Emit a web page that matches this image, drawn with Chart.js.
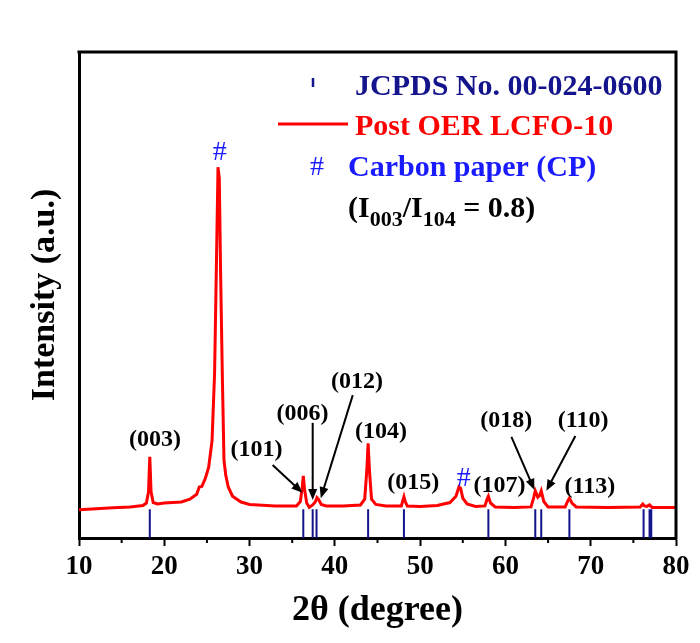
<!DOCTYPE html>
<html>
<head>
<meta charset="utf-8">
<script src="https://cdn.jsdelivr.net/npm/chart.js@4"></script>
<style>
  html, body { margin: 0; padding: 0; background: #fff; }
  #wrap { width: 700px; height: 643px; }
</style>
</head>
<body>
<div id="wrap"><canvas id="xrd" width="700" height="643"></canvas></div>
<script>
// XRD pattern, post OER LCFO-10
var twoTheta = [10, 12, 14, 16, 17.5, 17.9, 18.15, 18.3, 18.45, 18.7, 19.2, 20, 21, 22, 23, 23.8, 24.1, 24.4, 24.8, 25.2, 25.6, 25.9, 26.1, 26.3, 26.45, 26.6, 26.8, 27.0, 27.2, 27.5, 28.0, 29, 30, 33, 35.5, 35.95, 36.15, 36.3, 36.45, 36.7, 37.0, 37.4, 37.7, 37.9, 38.1, 38.4, 39, 41, 43.0, 43.5, 43.75, 43.9, 44.05, 44.3, 44.8, 46, 47.8, 47.95, 48.1, 48.25, 48.5, 50, 52, 53.5, 54.2, 54.55, 54.75, 55.0, 55.5, 56.5, 57.6, 57.85, 58.0, 58.25, 58.8, 61, 63.0, 63.3, 63.5, 63.8, 64.0, 64.2, 64.5, 65, 67, 67.3, 67.5, 67.8, 68.3, 72, 75.8, 76.1, 76.3, 76.6, 76.9, 77.2, 80];
var intensity = [5.8, 6.0, 6.2, 6.4, 6.7, 7.2, 9.5, 16.7, 9.5, 7.3, 7.0, 7.2, 7.3, 7.4, 8.0, 9.0, 10.5, 10.6, 12.2, 14.5, 20, 34, 55, 76.3, 74, 55, 34, 16, 13, 10.5, 8.6, 7.4, 6.9, 6.6, 6.6, 7.5, 10, 12.8, 10, 7.2, 6.3, 6.8, 7.4, 8.3, 7.9, 6.9, 6.6, 6.6, 6.8, 8, 14, 19.5, 14, 8, 6.9, 6.6, 6.6, 7.6, 8.5, 7.5, 6.6, 6.5, 6.7, 7.3, 8.6, 10.5, 10.2, 8.2, 7.0, 6.5, 6.6, 8.0, 8.6, 7.2, 6.4, 6.3, 6.4, 8.2, 9.7, 8.4, 8.7, 9.7, 7.5, 6.4, 6.4, 7.6, 8.2, 7.2, 6.4, 6.3, 6.4, 7.0, 6.6, 6.5, 6.8, 6.3, 6.3];

// JCPDS No. 00-024-0600 reference lines
var refPeaks = [18.3, 36.3, 37.4, 37.85, 43.9, 48.1, 58.0, 63.5, 64.2, 67.5, 76.2, 76.9, 77.1, 80.0];
var refHeight = 5.9;

// hkl labels (x in degree, y in intensity units)
var hklText = ['(003)', '(101)', '(006)', '(012)', '(104)', '(015)', '(107)', '(018)', '(110)', '(113)'];
var hklX = [18.9, 30.8, 36.2, 42.6, 45.4, 49.2, 59.3, 60.1, 69.1, 69.9];
var hklY = [20.2, 18.1, 25.5, 32.1, 21.8, 11.3, 10.7, 24.1, 24.1, 10.5];

// carbon paper marks
var cpX = [26.5, 55.1];
var cpY = [79.2, 12.3];

// arrows: start -> tip
var arrowX0 = [32.7, 37.4, 42.1, 60.7, 68.2];
var arrowY0 = [15.0, 23.7, 29.4, 20.8, 21.0];
var arrowX1 = [36.2, 37.4, 38.35, 63.4, 64.8];
var arrowY1 = [9.3, 7.8, 8.2, 9.9, 9.7];

var serif = "'Liberation Serif', 'Times New Roman', serif";

var curve = twoTheta.map(function (t, i) { return { x: t, y: intensity[i] }; });
var sticks = [];
refPeaks.forEach(function (p) {
    sticks.push({ x: p, y: 0 });
    sticks.push({ x: p, y: refHeight });
    sticks.push({ x: p, y: null });
});

function arrow(ctx, x0, y0, x1, y1) {
    var a = Math.atan2(y1 - y0, x1 - x0);
    var hl = 11, hw = 4.5;
    ctx.beginPath();
    ctx.moveTo(x0, y0);
    ctx.lineTo(x1 - Math.cos(a) * hl * 0.8, y1 - Math.sin(a) * hl * 0.8);
    ctx.stroke();
    ctx.beginPath();
    ctx.moveTo(x1, y1);
    ctx.lineTo(x1 - Math.cos(a) * hl - Math.sin(a) * hw, y1 - Math.sin(a) * hl + Math.cos(a) * hw);
    ctx.lineTo(x1 - Math.cos(a) * hl + Math.sin(a) * hw, y1 - Math.sin(a) * hl - Math.cos(a) * hw);
    ctx.closePath();
    ctx.fill();
}

var decorations = {
    id: 'decorations',
    afterDraw: function (chart) {
        var ctx = chart.ctx, a = chart.chartArea;
        var xs = chart.scales.x, ys = chart.scales.y;
        ctx.save();

        // frame top + right
        ctx.strokeStyle = '#000';
        ctx.lineWidth = 3;
        ctx.beginPath();
        ctx.moveTo(a.left - 1.5, a.top);
        ctx.lineTo(a.right, a.top);
        ctx.lineTo(a.right, a.bottom + 1.5);
        ctx.stroke();

        // minor ticks
        ctx.lineWidth = 2;
        for (var m = 15; m < 80; m += 10) {
            var px = xs.getPixelForValue(m);
            ctx.beginPath();
            ctx.moveTo(px, a.bottom);
            ctx.lineTo(px, a.bottom + 5);
            ctx.stroke();
        }

        // hkl labels
        ctx.fillStyle = '#000';
        ctx.font = 'bold 24px ' + serif;
        ctx.textAlign = 'center';
        ctx.textBaseline = 'middle';
        hklText.forEach(function (t, i) {
            ctx.fillText(t, xs.getPixelForValue(hklX[i]), ys.getPixelForValue(hklY[i]));
        });

        // arrows
        ctx.lineWidth = 2;
        ctx.strokeStyle = '#000';
        for (var i = 0; i < arrowX0.length; i++) {
            arrow(ctx, xs.getPixelForValue(arrowX0[i]), ys.getPixelForValue(arrowY0[i]),
                xs.getPixelForValue(arrowX1[i]), ys.getPixelForValue(arrowY1[i]));
        }

        // carbon paper #
        ctx.fillStyle = '#1a1aff';
        ctx.font = '28px ' + serif;
        cpX.forEach(function (x, i) {
            ctx.fillText('#', xs.getPixelForValue(x), ys.getPixelForValue(cpY[i]));
        });

        // legend
        var lx = a.left;
        ctx.textAlign = 'left';
        ctx.textBaseline = 'alphabetic';
        ctx.font = 'bold 30px ' + serif;
        ctx.strokeStyle = '#14148c';
        ctx.lineWidth = 2.5;
        ctx.beginPath();
        ctx.moveTo(lx + 234, 78);
        ctx.lineTo(lx + 234, 87);
        ctx.stroke();
        ctx.fillStyle = '#14148c';
        ctx.fillText('JCPDS No. 00-024-0600', lx + 276, 95);

        ctx.strokeStyle = '#ff0000';
        ctx.lineWidth = 3;
        ctx.beginPath();
        ctx.moveTo(lx + 199, 124);
        ctx.lineTo(lx + 269, 124);
        ctx.stroke();
        ctx.fillStyle = '#ff0000';
        ctx.fillText('Post OER LCFO-10', lx + 276, 135);

        ctx.fillStyle = '#1a1aff';
        ctx.font = '28px ' + serif;
        ctx.fillText('#', lx + 231, 175);
        ctx.font = 'bold 30px ' + serif;
        ctx.fillText('Carbon paper (CP)', lx + 269, 176);

        ctx.fillStyle = '#000';
        var tx = lx + 269, by = 217;
        function part(s, sub) {
            ctx.font = sub ? 'bold 22px ' + serif : 'bold 30px ' + serif;
            ctx.fillText(s, tx, sub ? by + 9 : by);
            tx += ctx.measureText(s).width;
        }
        part('(I', false);
        part('003', true);
        part('/I', false);
        part('104', true);
        part(' = 0.8)', false);

        ctx.restore();
    }
};

var ctx = document.getElementById('xrd').getContext('2d');
var chart = new Chart(ctx, {
    type: 'line',
    data: {
        datasets: [{
            label: 'JCPDS No. 00-024-0600',
            data: sticks,
            borderColor: '#14148c',
            borderWidth: 2,
            pointRadius: 0,
            spanGaps: false,
            order: 2
        }, {
            label: 'Post OER LCFO-10',
            data: curve,
            borderColor: '#ff0000',
            borderWidth: 3,
            pointRadius: 0,
            tension: 0,
            order: 1
        }]
    },
    options: {
        responsive: false,
        animation: false,
        layout: { padding: { top: 52, right: 24, left: 0, bottom: 0 } },
        plugins: { legend: { display: false }, tooltip: { enabled: false } },
        scales: {
            x: {
                type: 'linear',
                min: 10,
                max: 80,
                afterFit: function (s) { s.height = 105; },
                ticks: {
                    stepSize: 10,
                    color: '#000',
                    padding: 5,
                    maxRotation: 0,
                    font: { family: serif, size: 27, weight: 'bold' }
                },
                grid: { drawOnChartArea: false, drawTicks: true, tickLength: 8, tickWidth: 2, tickColor: '#000' },
                border: { display: true, color: '#000', width: 3 },
                title: {
                    display: true,
                    text: '2θ (degree)',
                    color: '#000',
                    padding: { top: 0, bottom: 11 },
                    font: { family: serif, size: 36, weight: 'bold' }
                }
            },
            y: {
                min: 0,
                max: 100,
                afterFit: function (s) { s.width = 79; },
                ticks: { display: false },
                grid: { drawOnChartArea: false, drawTicks: false },
                border: { display: true, color: '#000', width: 3 },
                title: {
                    display: true,
                    text: 'Intensity (a.u.)',
                    color: '#000',
                    padding: { top: 25, bottom: 0 },
                    font: { family: serif, size: 34, weight: 'bold' }
                }
            }
        }
    },
    plugins: [decorations]
});
</script>
</body>
</html>
